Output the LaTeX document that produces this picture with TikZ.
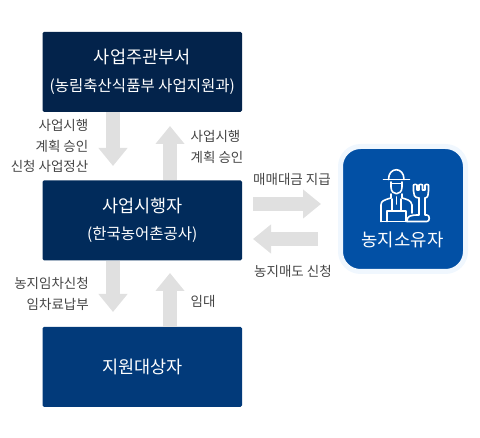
\documentclass[tikz,border=0pt]{standalone}
\usepackage{fontspec}
\setmainfont{Noto Sans CJK KR}
\usetikzlibrary{arrows.meta, positioning}
\definecolor{govblue}{HTML}{03234B}
\definecolor{agencyblue}{HTML}{012B5B}
\definecolor{tenantblue}{HTML}{023A7A}
\definecolor{ownerblue}{HTML}{0250A5}
\definecolor{ownerhalo}{HTML}{F0F7FE}
\definecolor{flowgray}{HTML}{E0E0E0}
\definecolor{labelgray}{HTML}{444444}
\tikzset{
  mainbox/.style={rectangle, rounded corners=1.5pt, minimum width=199.5pt, minimum height=80pt, inner sep=0pt, align=center, text=white, font=\fontsize{17.5}{24}\selectfont},
  ownerbox/.style={rectangle, rounded corners=20pt, minimum width=125pt, minimum height=125pt, inner sep=0pt, fill=ownerblue, draw=ownerhalo, line width=5pt},
  flowarrow/.style={line width=14pt, draw=flowgray, -{Triangle[length=18pt, width=28pt, color=flowgray]}},
  flowlabel/.style={inner sep=0pt, text=labelgray, font=\fontsize{13.5}{20.5}\selectfont},
  iconline/.style={draw=white, line width=1.6pt, line join=round, line cap=round}
}
\begin{document}
\begin{tikzpicture}[x=1pt, y=1pt, node distance=68pt and 101pt]

  \useasboundingbox (0,0) rectangle (480,-438);

  \node (gov) [mainbox, fill=govblue] at (142.25,-72) {사업주관부서\\[3.5pt]{\fontsize{15.5}{20}\selectfont (농림축산식품부 사업지원과)}};
  \node (agency) [mainbox, fill=agencyblue, below=of gov] {사업시행자\\[3pt]{\fontsize{15.5}{20}\selectfont (한국농어촌공사)}};
  \node (tenant) [mainbox, fill=tenantblue, below=66pt of agency] {지원대상자};
  \node (owner) [ownerbox] at (403,-209) {};
  \node (ownername) [inner sep=0pt, text=white, font=\fontsize{17.8}{20}\selectfont] at (402.5,-240) {농지소유자};

  % arrow ends
  \coordinate (govdown) at (113,-166);
  \coordinate (agencyup) at (170,-126);
  \coordinate (agencydown) at (113,-312);
  \coordinate (tenantup) at (170,-273);
  \coordinate (payout) at (321,-204);
  \coordinate (payin) at (253,-204);
  \coordinate (sellout) at (318,-239);
  \coordinate (sellin) at (253,-239);

  \draw [flowarrow] (gov.south -| govdown) -- (govdown);
  \draw [flowarrow] (agency.north -| agencyup) -- (agencyup);
  \draw [flowarrow] (agency.south -| agencydown) -- (agencydown);
  \draw [flowarrow] (tenant.north -| tenantup) -- (tenantup);
  \draw [flowarrow] (payin) -- (payout);
  \draw [flowarrow] (sellout) -- (sellin);

  \node (lblgov) [flowlabel, align=right, anchor=east] at (88.5,-146) {사업시행\\계획 승인\\신청 사업정산};
  \node (lblagency) [flowlabel, align=left, anchor=west] at (190.5,-147) {사업시행\\계획 승인};
  \node (lbltenant) [flowlabel, align=right, anchor=east] at (89,-294) {농지임차신청\\임차료납부};
  \node (lbllease) [flowlabel, anchor=west] at (190.5,-301) {임대};
  \node (lblpay) [flowlabel, anchor=center] at (292,-179) {매매대금 지급};
  \node (lblsell) [flowlabel, anchor=center] at (293,-271) {농지매도 신청};

  % farmer icon
  \draw [iconline] (383.5,-179.5) -- (409.5,-179.5);
  \draw [iconline] (388.5,-179.5) .. controls (388.5,-166.5) and (404,-166.5) .. (404,-179.5);
  \draw [iconline] (391,-182) -- (391,-187) .. controls (391,-196) and (402,-196) .. (402,-187) -- (402,-182);
  \draw [iconline] (391,-183.5) -- (402,-183.5);
  \draw [iconline] (381,-221.5) -- (381,-205) .. controls (381,-201) and (384,-200) .. (391,-198) -- (391,-194);
  \draw [iconline] (402,-194) -- (402,-198) .. controls (407,-199.5) and (411,-200) .. (412,-205) -- (412,-213);
  \draw [iconline] (381,-221.5) -- (407,-221.5);
  \draw [iconline] (387,-211) -- (387,-221.5);
  \draw [iconline] (387,-211) -- (406,-211) -- (406,-221.5);
  \draw [iconline] (392,-199) -- (392,-211);
  \draw [iconline] (401,-199) -- (401,-211);
  \draw [iconline] (396.5,-197) -- (396.5,-204);
  \draw [iconline] (407,-221.5) -- (427,-221.5) .. controls (430,-221.5) and (430,-215) .. (427,-215) -- (425,-215) -- (425,-198);
  \draw [iconline] (407,-221.5) .. controls (407,-216) and (410,-215) .. (419,-215) -- (419,-198);
  \draw [iconline] (419,-198) .. controls (414,-198) and (413.5,-194) .. (413.5,-191) -- (413.5,-185) .. controls (414.5,-184) and (416,-184) .. (417,-185) -- (417,-190) -- (419,-190) -- (419,-185) .. controls (420,-184) and (421.5,-184) .. (422.5,-185) -- (422.5,-190) -- (425,-190) -- (425,-185) .. controls (426,-184) and (427.5,-184) .. (428.5,-185) -- (428.5,-191) .. controls (428.5,-194) and (428,-198) .. (425,-198);

\end{tikzpicture}
\end{document}
